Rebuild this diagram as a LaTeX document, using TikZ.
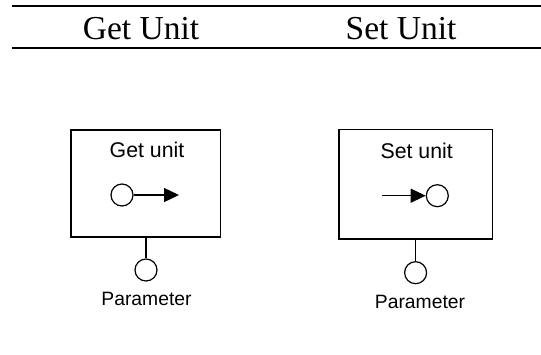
\documentclass[tikz,border=0pt]{standalone}
\usepackage{fontspec}
\setmainfont{Liberation Serif}
\setsansfont{Liberation Sans}
\usetikzlibrary{arrows.meta}
\begin{document}
\begin{tikzpicture}[x=1pt,y=-1pt,
  unitbox/.style={draw,line width=1.3pt,rectangle,inner sep=0pt},
  port/.style={draw,line width=1.2pt,circle,minimum size=22pt,inner sep=0pt},
  head/.style={font=\fontsize{33.5}{33.5}\selectfont,anchor=base,inner sep=0pt},
  lbl/.style={font=\sffamily\fontsize{21.3}{21.3}\selectfont,anchor=base,inner sep=0pt},
  plbl/.style={font=\sffamily\fontsize{19.3}{19.3}\selectfont,anchor=base,inner sep=0pt},
  conn/.style={line width=1.3pt},
  arr/.style={line width=1.3pt,-{Triangle[length=15pt,width=14pt]}}]
\useasboundingbox (0,0) rectangle (541,354);
% header rules
\coordinate (t1) at (12,5.8);
\coordinate (t2) at (541,5.8);
\coordinate (b1) at (12,48);
\coordinate (b2) at (541,48);
\draw[line width=1.8pt] (t1) -- (t2);
\draw[line width=1.8pt] (b1) -- (b2);
\node[head] (hg) at (141,39.5) {Get Unit};
\node[head] (hs) at (401,39.5) {Set Unit};
% Get unit
\node[unitbox,minimum width=149.7pt,minimum height=107pt] (gbox) at (145.85,183.6) {};
\node[lbl] (gl) at (147,157.7) {Get unit};
\node[port] (gc) at (122,195) {};
\coordinate (ge) at (179,195);
\draw[arr] (gc.east) -- (ge);
\node[port] (gp) at (146,270) {};
\draw[conn] (gbox.south -| gp) -- (gp.north);
\node[plbl] (gpl) at (146.5,305) {Parameter};
% Set unit
\node[unitbox,minimum width=153.3pt,minimum height=109.7pt] (sbox) at (415.65,184.15) {};
\node[lbl] (sl) at (416.7,158) {Set unit};
\node[port] (sc) at (437.3,195.7) {};
\coordinate (ss) at (382.3,195.7);
\draw[arr] (ss) -- (sc.west);
\node[port] (sp) at (415.6,272.7) {};
\draw[conn] (sbox.south -| sp) -- (sp.north);
\node[plbl] (spl) at (420,308) {Parameter};
\end{tikzpicture}
\end{document}
